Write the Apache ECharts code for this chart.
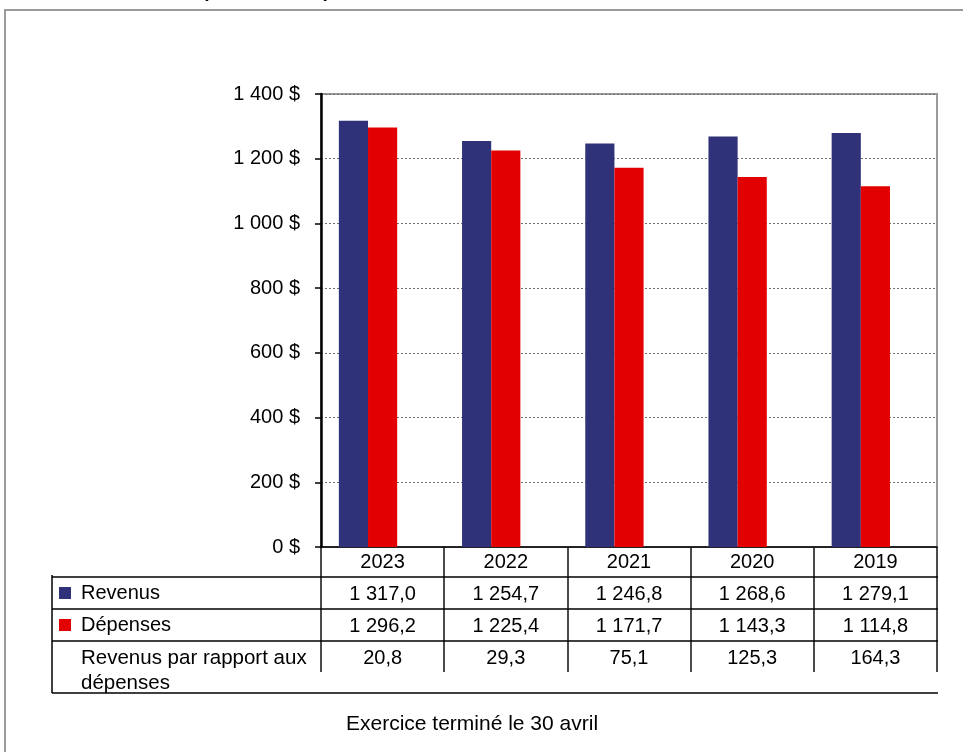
<!DOCTYPE html>
<html>
<head>
<meta charset="utf-8">
<title>Revenus et dépenses</title>
<script src="https://cdn.jsdelivr.net/npm/echarts@6/dist/echarts.min.js"></script>
<style>
    html, body { margin: 0; padding: 0; background: #fff; }
    #chart { width: 963px; height: 752px; }
</style>
</head>
<body>
<div id="chart"></div>
<script>
// Data
// ------------------------------

var years = ['2023', '2022', '2021', '2020', '2019'];
var revenus = [1317.0, 1254.7, 1246.8, 1268.6, 1279.1];
var depenses = [1296.2, 1225.4, 1171.7, 1143.3, 1114.8];
var ecart = [20.8, 29.3, 75.1, 125.3, 164.3];
var yTicks = [0, 200, 400, 600, 800, 1000, 1200, 1400];

// Layout
var G = { left: 321, top: 94, right: 937, bottom: 547 };
var ROW = 32;
var FONT = '"Liberation Sans", Arial, sans-serif';

// French number format: 1 317,0
var fmt = function(v, dec) {
    var parts = v.toFixed(dec).split('.');
    var intPart = parts[0].replace(/\B(?=(\d{3})+(?!\d))/g, ' ');
    return parts.length > 1 ? intPart + ',' + parts[1] : intPart;
};

var chart = echarts.init(document.getElementById('chart'));

// Table lines below the axis
var tableTop = G.bottom + ROW - 2;
var hLine = function(y, x1) {
    return {
        type: 'line', silent: true, z: 10,
        shape: { x1: x1, y1: y, x2: G.right + 1, y2: y },
        style: { stroke: '#000', lineWidth: 1.5 }
    };
};

var option = {
    color: ['#2f3179', '#e30000', 'transparent'],
    textStyle: { fontFamily: FONT, fontSize: 20, color: '#000' },
    animation: false,

    grid: {
        left: G.left, top: G.top,
        width: G.right - G.left, height: G.bottom - G.top,
        show: true, borderColor: '#9a9a9a', borderWidth: 2
    },

    legend: {
        data: ['Revenus', 'Dépenses'],
        orient: 'vertical',
        left: 59, top: 583,
        padding: 0,
        itemWidth: 12, itemHeight: 12, itemGap: 12,
        icon: 'rect',
        selectedMode: false,
        itemStyle: { borderWidth: 0 },
        textStyle: { fontFamily: FONT, fontSize: 20, color: '#000', padding: [0, 0, 0, 5] }
    },

    xAxis: {
        type: 'category',
        data: years,
        axisLine: { lineStyle: { color: '#000', width: 1.5 } },
        axisTick: { show: true, interval: 0, length: 125, lineStyle: { color: '#111', width: 1.5 } },
        axisLabel: {
            interval: 0,
            margin: -1,
            fontFamily: FONT, fontSize: 20, color: '#000',
            lineHeight: ROW,
            formatter: function(value, idx) {
                return value + '\n' + fmt(revenus[idx], 1) + '\n' +
                    fmt(depenses[idx], 1) + '\n' + fmt(ecart[idx], 1);
            }
        }
    },

    yAxis: {
        type: 'value',
        min: yTicks[0], max: yTicks[yTicks.length - 1], interval: yTicks[1] - yTicks[0],
        axisLine: { show: true, lineStyle: { color: '#000', width: 2.5 } },
        axisTick: { show: true, length: 6, lineStyle: { color: '#000', width: 1.5 } },
        axisLabel: {
            margin: 21,
            fontFamily: FONT, fontSize: 20, color: '#000',
            formatter: function(v) { return fmt(v, 0) + ' $'; }
        },
        splitLine: { show: true, lineStyle: { color: '#707070', width: 1, type: [2, 2] } }
    },

    series: [{
        name: 'Revenus', type: 'bar', data: revenus,
        barCategoryGap: '29%', barGap: '0%',
        itemStyle: { color: '#2f3179' }
    }, {
        name: 'Dépenses', type: 'bar', data: depenses,
        itemStyle: { color: '#e30000' }
    }, {
        name: 'Revenus par rapport aux dépenses', type: 'bar', data: ecart,
        silent: true,
        itemStyle: { color: 'transparent' }
    }],

    graphic: [
        // outer frame
        {
            type: 'rect', silent: true,
            shape: { x: 5, y: 10, width: 1000, height: 800 },
            style: { fill: 'none', stroke: '#9a9a9a', lineWidth: 2 }
        },
        // title, cut off at the top
        {
            type: 'text', silent: true,
            style: {
                text: '(en millions $)', x: 266, y: 1.5,
                align: 'center', verticalAlign: 'bottom',
                font: 'bold 19px ' + FONT, fill: '#000'
            }
        },
        hLine(tableTop, 52),
        hLine(tableTop + ROW, 52),
        hLine(tableTop + 2 * ROW, 52),
        hLine(693, 52),
        {
            type: 'line', silent: true, z: 10,
            shape: { x1: 52, y1: tableTop - 2, x2: 52, y2: 693 },
            style: { stroke: '#000', lineWidth: 1.5 }
        },
        {
            type: 'text', silent: true,
            style: {
                text: 'Revenus par rapport aux\ndépenses', x: 81, y: 646,
                lineHeight: 25,
                font: '20.5px ' + FONT, fill: '#000'
            }
        },
        {
            type: 'text', silent: true,
            style: {
                text: 'Exercice terminé le 30 avril', x: 472, y: 724,
                align: 'center', verticalAlign: 'middle',
                font: '21px ' + FONT, fill: '#000'
            }
        }
    ]
};

chart.setOption(option);
</script>
</body>
</html>
